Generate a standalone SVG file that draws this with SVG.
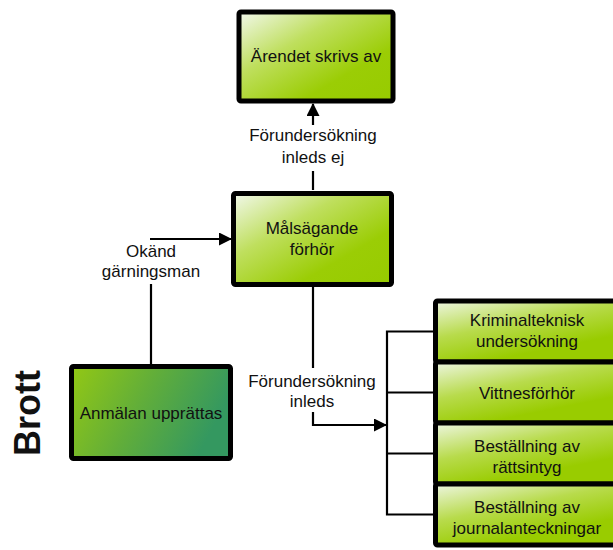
<svg xmlns="http://www.w3.org/2000/svg" width="613" height="550" viewBox="0 0 613 550">
<defs>
<linearGradient id="g" x1="0" y1="0" x2="1" y2="1">
<stop offset="0" stop-color="#f2f8ec"/>
<stop offset="0.35" stop-color="#bfdf5e"/>
<stop offset="0.7" stop-color="#9bcd05"/>
<stop offset="1" stop-color="#97cb00"/>
</linearGradient>
<linearGradient id="gw" x1="0" y1="0" x2="0.6" y2="1">
<stop offset="0" stop-color="#eef6e2"/>
<stop offset="0.45" stop-color="#b8db4c"/>
<stop offset="0.85" stop-color="#99cc00"/>
</linearGradient>
<linearGradient id="gd" x1="0" y1="0" x2="1" y2="0.3">
<stop offset="0" stop-color="#93c814"/>
<stop offset="0.5" stop-color="#62ae39"/>
<stop offset="1" stop-color="#349860"/>
</linearGradient>
<marker id="ah" markerUnits="userSpaceOnUse" markerWidth="13" markerHeight="13" refX="12" refY="6.5" orient="auto">
<path d="M0,0 L13,6.5 L0,13 z" fill="#000"/>
</marker>
</defs>
<style>
.box{stroke:#000;stroke-width:5;}
.t{font-family:"Liberation Sans",Arial,sans-serif;font-size:17px;fill:#111;text-anchor:middle;}
.c{fill:none;stroke:#000;stroke-width:2.2;}
</style>
<text x="0" y="0" transform="translate(40,413) rotate(-90)" style="font-family:'Liberation Sans',Arial,sans-serif;font-size:36px;font-weight:bold;fill:#111;text-anchor:middle">Brott</text>
<g id="connectors">
<line class="c" x1="313" y1="190" x2="313" y2="171"/>
<line class="c" x1="313" y1="125" x2="313" y2="104" marker-end="url(#ah)"/>
<text class="t" x="313" y="141">Förundersökning</text>
<text class="t" x="313" y="163">inleds ej</text>
<line class="c" x1="151" y1="365" x2="151" y2="284"/>
<line class="c" x1="150" y1="239" x2="231" y2="239" marker-end="url(#ah)"/>
<text class="t" x="151" y="257">Okänd</text>
<text class="t" x="151" y="277">gärningsman</text>
<line class="c" x1="313" y1="287" x2="313" y2="368"/>
<polyline class="c" points="313,412 313,425 386,425" marker-end="url(#ah)"/>
<text class="t" x="312" y="387">Förundersökning</text>
<text class="t" x="312" y="407">inleds</text>
<path class="c" d="M433,331.5 H387 V514.5 H433 M387,392.5 H433 M387,453.5 H433"/>
</g>
<g id="arendet">
<rect class="box" x="239" y="12" width="154" height="89" rx="2" fill="url(#g)"/>
<text class="t" x="316" y="62">Ärendet skrivs av</text>
</g>
<g id="malsagande">
<rect class="box" x="233.5" y="193.5" width="158" height="91" rx="2" fill="url(#g)"/>
<text class="t" x="312" y="234">Målsägande</text>
<text class="t" x="312" y="255">förhör</text>
</g>
<g id="anmalan">
<rect class="box" x="71.5" y="366.5" width="159" height="92" rx="2" fill="url(#gd)"/>
<text class="t" x="151" y="419">Anmälan upprättas</text>
</g>
<g id="kriminalteknisk">
<rect class="box" x="435.5" y="301" width="183" height="61" rx="2" fill="url(#gw)"/>
<text class="t" x="527" y="326">Kriminalteknisk</text>
<text class="t" x="527" y="347">undersökning</text>
</g>
<g id="vittnesforhor">
<rect class="box" x="435.5" y="362" width="183" height="61" rx="2" fill="url(#gw)"/>
<text class="t" x="527" y="399">Vittnesförhör</text>
</g>
<g id="rattsintyg">
<rect class="box" x="435.5" y="423" width="183" height="61" rx="2" fill="url(#gw)"/>
<text class="t" x="527" y="452">Beställning av</text>
<text class="t" x="527" y="473">rättsintyg</text>
</g>
<g id="journal">
<rect class="box" x="435.5" y="484" width="183" height="61" rx="2" fill="url(#gw)"/>
<text class="t" x="527" y="513">Beställning av</text>
<text class="t" x="527" y="534">journalanteckningar</text>
</g>
</svg>
